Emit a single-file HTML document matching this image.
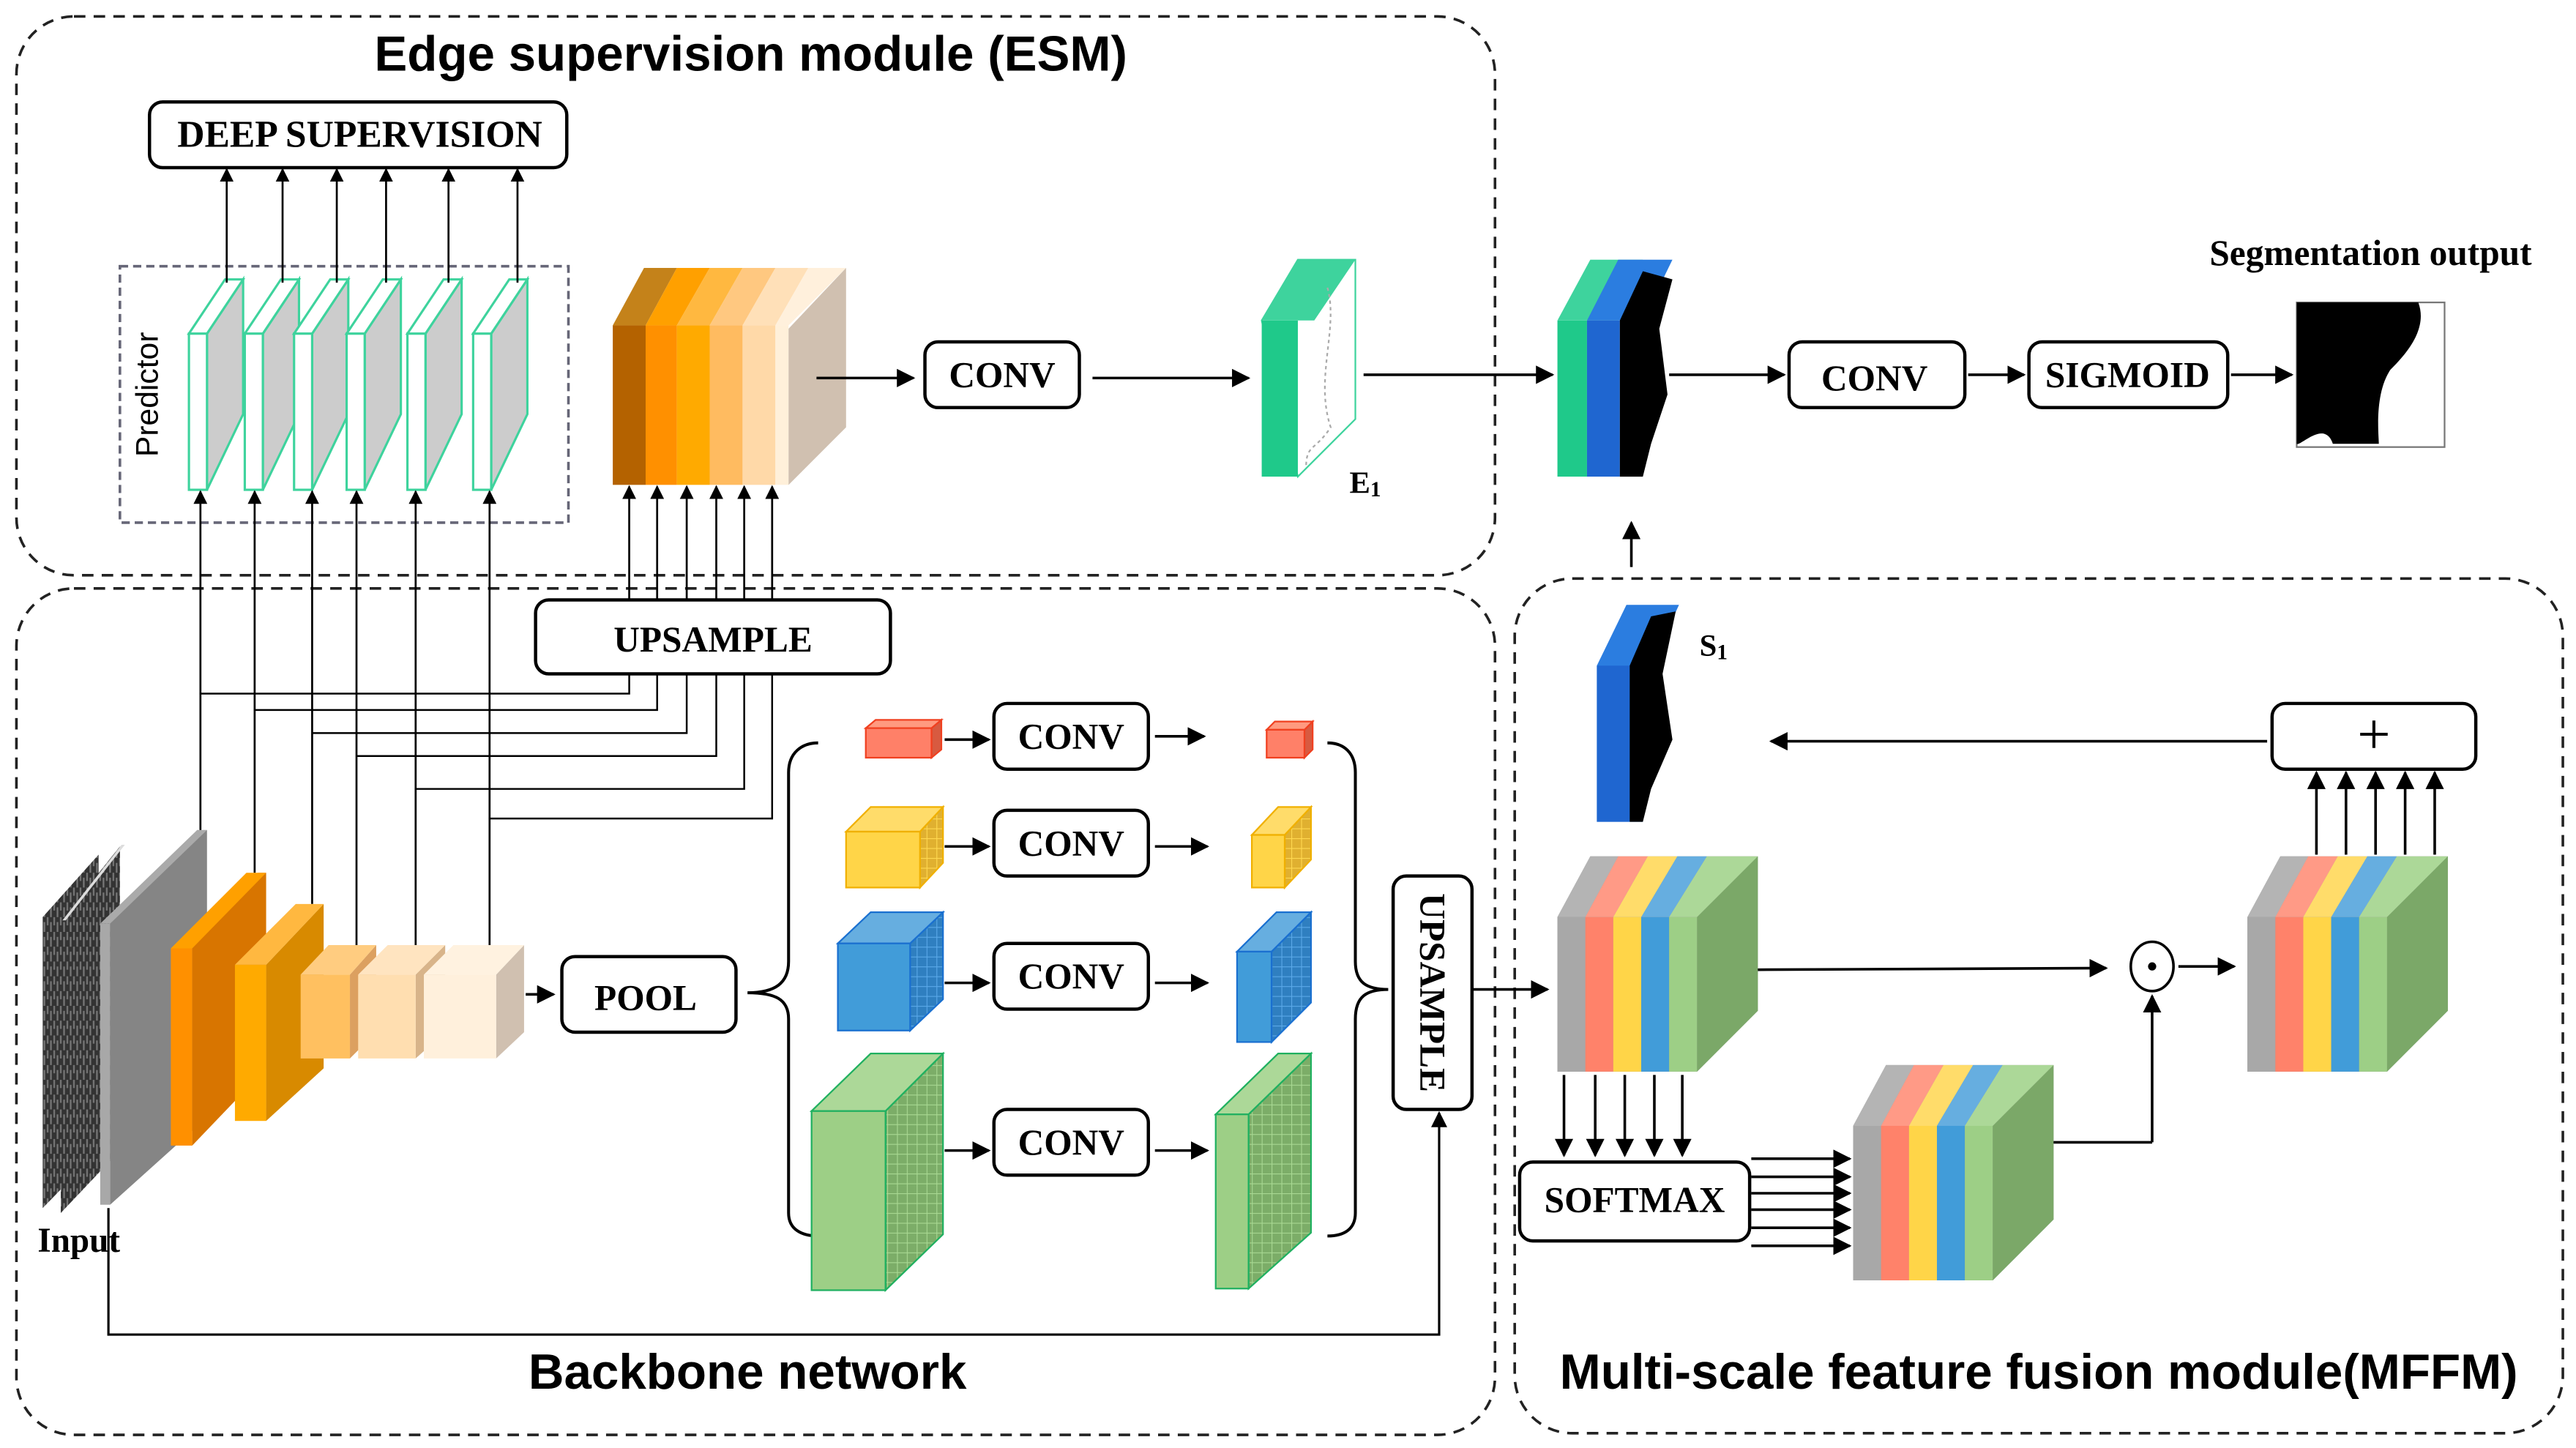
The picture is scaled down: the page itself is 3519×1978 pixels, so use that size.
<!DOCTYPE html>
<html><head><meta charset="utf-8"><style>
html,body{margin:0;padding:0;background:#fff}
svg{display:block}
.s{font-family:"Liberation Serif",serif;font-weight:bold;font-size:22px;text-anchor:middle;dominant-baseline:central}
.t{font-family:"Liberation Sans",sans-serif;font-weight:bold;font-size:30px;text-anchor:middle}
</style></head><body>
<svg width="3519" height="1978" viewBox="0 0 1568 881" preserveAspectRatio="none" xmlns="http://www.w3.org/2000/svg">
<defs>
<marker id="a" viewBox="0 0 10 10" refX="9" refY="5" markerWidth="7" markerHeight="7" orient="auto"><path d="M0,0L10,5L0,10z" fill="#000"/></marker>
<pattern id="gy" width="6" height="6" patternUnits="userSpaceOnUse"><rect width="6" height="6" fill="#e0b030"/><path d="M0,0V6M0,0H6" stroke="#ffd850" stroke-width="1"/></pattern>
<pattern id="gb" width="6" height="6" patternUnits="userSpaceOnUse"><rect width="6" height="6" fill="#2f7fc0"/><path d="M0,0V6M0,0H6" stroke="#5aa8e8" stroke-width="1"/></pattern>
<pattern id="gg" width="6" height="6" patternUnits="userSpaceOnUse"><rect width="6" height="6" fill="#7cad68"/><path d="M0,0V6M0,0H6" stroke="#a8d892" stroke-width="1"/></pattern>
<pattern id="sc" width="4" height="9" patternUnits="userSpaceOnUse"><rect width="4" height="9" fill="#333"/><path d="M1,0V5M3,3V9" stroke="#777" stroke-width="1"/></pattern>
</defs>
<g fill="none" stroke="#222" stroke-width="1.6" stroke-dasharray="7,5">
<rect x="10" y="10" width="900" height="340" rx="35"/>
<rect x="10" y="358" width="900" height="515" rx="35"/>
<rect x="922" y="352" width="638" height="520" rx="35"/>
</g>
<text class="t" x="457" y="43">Edge supervision module (ESM)</text>
<text class="t" x="455" y="845">Backbone network</text>
<text class="t" x="1241" y="845">Multi-scale feature fusion module(MFFM)</text>

<g fill="#fff" stroke="#000" stroke-width="2">
<rect x="91" y="62" width="254" height="40" rx="8"/>
<rect x="563" y="208" width="94" height="40" rx="8"/>
<rect x="1089" y="208" width="107" height="40" rx="8"/>
<rect x="1235" y="208" width="121" height="40" rx="8"/>
<rect x="326" y="365" width="216" height="45" rx="8"/>
<rect x="342" y="582" width="106" height="46" rx="8"/>
<rect x="605" y="428" width="94" height="40" rx="8"/>
<rect x="605" y="493" width="94" height="40" rx="8"/>
<rect x="605" y="574" width="94" height="40" rx="8"/>
<rect x="605" y="675" width="94" height="40" rx="8"/>
<rect x="848" y="533" width="48" height="142" rx="8"/>
<rect x="1383" y="428" width="124" height="40" rx="8"/>
<rect x="925" y="707" width="140" height="48" rx="8"/>
</g>
<text class="s" x="219" y="82" style="font-size:23px">DEEP SUPERVISION</text>
<text class="s" x="610" y="228">CONV</text>
<text class="s" x="1141" y="230">CONV</text>
<text class="s" x="1295" y="228">SIGMOID</text>
<text class="s" x="434" y="389">UPSAMPLE</text>
<text class="s" x="393" y="607">POOL</text>
<text class="s" x="652" y="448">CONV</text>
<text class="s" x="652" y="513">CONV</text>
<text class="s" x="652" y="594">CONV</text>
<text class="s" x="652" y="695">CONV</text>
<text class="s" x="872" y="604" transform="rotate(90 872 604)">UPSAMPLE</text>
<text class="s" x="1445" y="447" style="font-size:36px;font-weight:normal">+</text>
<text class="s" x="995" y="730">SOFTMAX</text>
<text class="s" x="1443" y="154" style="font-size:22px">Segmentation output</text>
<text class="s" x="48" y="755" style="font-size:21px">Input</text>
<text class="s" x="831" y="294" style="font-size:19px">E<tspan font-size="13" dy="4">1</tspan></text>
<text class="s" x="1043" y="393" style="font-size:19px">S<tspan font-size="13" dy="4">1</tspan></text>

<!-- predictor -->
<rect x="73" y="162" width="273" height="156" fill="none" stroke="#667" stroke-width="1.6" stroke-dasharray="5,3"/>
<text x="96" y="240" transform="rotate(-90 96 240)" font-family="Liberation Sans,sans-serif" font-size="19" text-anchor="middle">Predictor</text>
<g stroke="#3ed39d" stroke-width="1.4">
<g id="p"><polygon points="126,203 148,170 148,252 126,298" fill="#ccc"/><polygon points="115,203 137,170 148,170 126,203" fill="#fff"/><rect x="115" y="203" width="11" height="95" fill="#fff"/></g>
<use href="#p" x="34"/><use href="#p" x="64"/><use href="#p" x="96"/><use href="#p" x="133"/><use href="#p" x="173"/>
</g>
<g stroke="#000" stroke-width="1.2" marker-end="url(#a)">
<line x1="138" y1="172" x2="138" y2="103"/><line x1="172" y1="172" x2="172" y2="103"/><line x1="205" y1="172" x2="205" y2="103"/><line x1="235" y1="172" x2="235" y2="103"/><line x1="273" y1="172" x2="273" y2="103"/><line x1="315" y1="172" x2="315" y2="103"/>
</g>
<!-- orange stack -->
<rect x="373" y="198" width="20" height="97" fill="#b46200"/>
<rect x="393" y="198" width="19" height="97" fill="#ff9000"/>
<rect x="412" y="198" width="20" height="97" fill="#ffaa00"/>
<rect x="432" y="198" width="20" height="97" fill="#ffbb60"/>
<rect x="452" y="198" width="20" height="97" fill="#ffd9a8"/>
<rect x="472" y="198" width="8" height="97" fill="#fff0da"/>
<polygon points="373,198 392,163 412,163 393,198" fill="#c4821a"/>
<polygon points="393,198 412,163 432,163 412,198" fill="#ffa000"/>
<polygon points="412,198 432,163 452,163 432,198" fill="#ffb840"/>
<polygon points="432,198 452,163 472,163 452,198" fill="#ffc880"/>
<polygon points="452,198 472,163 492,163 472,198" fill="#ffe0b8"/>
<polygon points="472,198 492,163 515,163 480,198" fill="#fff0dc"/>
<polygon points="480,200 515,163 515,260 480,295" fill="#d0c0b0"/>
<g stroke="#000" stroke-width="1.2" marker-end="url(#a)">
<line x1="383" y1="365" x2="383" y2="296"/><line x1="400" y1="365" x2="400" y2="296"/><line x1="418" y1="365" x2="418" y2="296"/><line x1="436" y1="365" x2="436" y2="296"/><line x1="453" y1="365" x2="453" y2="296"/><line x1="470" y1="365" x2="470" y2="296"/>
<line x1="122" y1="505" x2="122" y2="299"/><line x1="155" y1="531" x2="155" y2="299"/><line x1="190" y1="550" x2="190" y2="299"/><line x1="217" y1="575" x2="217" y2="299"/><line x1="253" y1="575" x2="253" y2="299"/><line x1="298" y1="575" x2="298" y2="299"/>
</g>
<g fill="none" stroke="#000" stroke-width="1.1">
<polyline points="122,422 383,422 383,410"/><polyline points="155,432 400,432 400,410"/><polyline points="190,446 418,446 418,410"/><polyline points="217,460 436,460 436,410"/><polyline points="253,480 453,480 453,410"/><polyline points="298,498 470,498 470,410"/>
</g>
<!-- ESM arrows -->
<g stroke="#000" stroke-width="1.6" marker-end="url(#a)">
<line x1="497" y1="230" x2="556" y2="230"/><line x1="665" y1="230" x2="760" y2="230"/><line x1="830" y1="228" x2="945" y2="228"/><line x1="1016" y1="228" x2="1086" y2="228"/><line x1="1198" y1="228" x2="1232" y2="228"/><line x1="1358" y1="228" x2="1395" y2="228"/>
<line x1="993" y1="345" x2="993" y2="318"/>
</g>
<!-- E1 -->
<polygon points="768,195 790,158 825,158 825,255 790,290" fill="#fff" stroke="#3ed39d"/>
<polygon points="768,195 790,158 825,158 800,195" fill="#3ed39d"/>
<rect x="768" y="195" width="22" height="95" fill="#1fc98a"/>
<path d="M808,175 C815,200 800,230 810,260 C800,275 795,270 795,285" fill="none" stroke="#aaa" stroke-dasharray="2,2"/>
<!-- fused -->
<polygon points="948,195 968,158 1000,158 985,195" fill="#3ed39d"/>
<rect x="948" y="195" width="18" height="95" fill="#1fc98a"/>
<polygon points="966,195 985,158 1018,158 1000,195" fill="#2b7de0"/>
<rect x="966" y="195" width="20" height="95" fill="#1f66d0"/>
<path d="M986,195 L1000,165 1018,170 1010,200 1015,240 1005,270 1000,290 986,290z" fill="#000"/>
<!-- output -->
<rect x="1398" y="184" width="90" height="88" fill="#fff" stroke="#777"/>
<path d="M1398,184 L1472,184 C1478,200 1465,215 1455,225 C1445,240 1448,265 1448,270 L1420,270 C1415,255 1400,272 1398,270z" fill="#000"/>
<!-- S1 -->
<polygon points="972,405 990,368 1022,368 1005,405 1000,500 972,500" fill="#2b7de0"/>
<rect x="972" y="405" width="20" height="95" fill="#1f66d0"/>
<path d="M992,405 L1005,375 1020,372 1012,410 1018,450 1005,480 1000,500 992,500z" fill="#000"/>
<!-- MFFM stacks -->
<g id="cs">
<polygon points="948,558 968,521 1070,521 1070,615 1033,652 948,652" fill="#999"/>
<polygon points="948,558 968,521 985,521 965,558" fill="#b4b4b4"/>
<polygon points="965,558 985,521 1003,521 982,558" fill="#ff9a86"/>
<polygon points="982,558 1003,521 1021,521 999,558" fill="#ffdc6a"/>
<polygon points="999,558 1021,521 1039,521 1016,558" fill="#66aee0"/>
<polygon points="1016,558 1039,521 1070,521 1033,558" fill="#acd898"/>
<rect x="948" y="558" width="17" height="94" fill="#a8a8a8"/>
<rect x="965" y="558" width="17" height="94" fill="#ff826a"/>
<rect x="982" y="558" width="17" height="94" fill="#ffd548"/>
<rect x="999" y="558" width="17" height="94" fill="#419cd9"/>
<rect x="1016" y="558" width="17" height="94" fill="#9dcf86"/>
<polygon points="1033,558 1070,521 1070,615 1033,652" fill="#7ba868"/>
</g>
<use href="#cs" x="420"/>
<use href="#cs" x="180" y="127"/>
<g stroke="#000" stroke-width="1.6" marker-end="url(#a)">
<line x1="1380" y1="451" x2="1078" y2="451"/>
<line x1="1070" y1="590" x2="1282" y2="589"/>
<line x1="1326" y1="588" x2="1360" y2="588"/>
<line x1="1310" y1="695" x2="1310" y2="606"/>
<line x1="1410" y1="520" x2="1410" y2="470"/><line x1="1428" y1="520" x2="1428" y2="470"/><line x1="1446" y1="520" x2="1446" y2="470"/><line x1="1464" y1="520" x2="1464" y2="470"/><line x1="1482" y1="520" x2="1482" y2="470"/>
<line x1="952" y1="654" x2="952" y2="703"/><line x1="971" y1="654" x2="971" y2="703"/><line x1="989" y1="654" x2="989" y2="703"/><line x1="1007" y1="654" x2="1007" y2="703"/><line x1="1024" y1="654" x2="1024" y2="703"/>
<line x1="1066" y1="705" x2="1126" y2="705"/><line x1="1066" y1="716" x2="1126" y2="716"/><line x1="1066" y1="726" x2="1126" y2="726"/><line x1="1066" y1="736" x2="1126" y2="736"/><line x1="1066" y1="747" x2="1126" y2="747"/><line x1="1066" y1="758" x2="1126" y2="758"/>
<line x1="896" y1="602" x2="942" y2="602"/>
</g>
<line x1="1250" y1="695" x2="1310" y2="695" stroke="#000" stroke-width="1.6"/>
<ellipse cx="1310" cy="588" rx="13" ry="15" fill="#fff" stroke="#000" stroke-width="1.6"/><circle cx="1310" cy="588" r="2.5"/>
<!-- backbone input -->
<polygon points="26,558 60,520 60,700 26,735" fill="url(#sc)"/>
<polygon points="37,560 73,515 73,700 37,738" fill="url(#sc)"/>
<polygon points="38,560 74,514 76,514 40,560" fill="#ddd"/>
<polygon points="67,562 120,505 126,505 126,680 67,733" fill="#858585"/>
<polygon points="61,562 120,505 126,505 67,562" fill="#aaa"/>
<rect x="61" y="562" width="6" height="171" fill="#a8a8a8"/>
<polygon points="117,577 157,531 162,531 162,650 117,697" fill="#d87500"/>
<polygon points="104,577 150,531 162,531 117,577" fill="#ffa000"/>
<rect x="104" y="577" width="13" height="120" fill="#ff9000"/>
<polygon points="162,587 197,550 197,650 162,682" fill="#d88a00"/>
<polygon points="143,587 180,550 197,550 162,587" fill="#ffb840"/>
<rect x="143" y="587" width="19" height="95" fill="#ffaa00"/>
<polygon points="213,593 229,575 229,628 213,644" fill="#dca060"/>
<polygon points="183,593 200,575 229,575 213,593" fill="#ffcc80"/>
<rect x="183" y="593" width="30" height="51" fill="#ffc060"/>
<polygon points="253,593 271,575 271,628 253,644" fill="#d8b48a"/>
<polygon points="218,593 236,575 271,575 253,593" fill="#ffe4c0"/>
<rect x="218" y="593" width="35" height="51" fill="#ffdeb0"/>
<polygon points="302,593 319,575 319,628 302,644" fill="#d0c0b0"/>
<polygon points="258,593 276,575 319,575 302,593" fill="#fff2e0"/>
<rect x="258" y="593" width="44" height="51" fill="#fff0dc"/>
<g stroke="#000" stroke-width="1.6" marker-end="url(#a)">
<line x1="320" y1="605" x2="337" y2="605"/>
<line x1="575" y1="450" x2="602" y2="450"/><line x1="703" y1="448" x2="733" y2="448"/>
<line x1="575" y1="515" x2="602" y2="515"/><line x1="703" y1="515" x2="735" y2="515"/>
<line x1="575" y1="598" x2="602" y2="598"/><line x1="703" y1="598" x2="735" y2="598"/>
<line x1="575" y1="700" x2="602" y2="700"/><line x1="703" y1="700" x2="735" y2="700"/>
</g>
<polyline points="66,735 66,812 876,812 876,677" fill="none" stroke="#000" stroke-width="1.4" marker-end="url(#a)"/>
<!-- braces -->
<path d="M455,604 C472,604 480,598 480,585 L480,470 C480,458 488,452 498,452 M480,620 L480,738 C480,748 488,752 498,752 M455,604 C472,604 480,608 480,620" fill="none" stroke="#000" stroke-width="1.8"/>
<path d="M808,452 C818,452 825,458 825,470 L825,585 C825,598 832,602 845,602 C832,602 825,606 825,620 L825,738 C825,748 818,752 808,752" fill="none" stroke="#000" stroke-width="1.8"/>
<!-- cubes -->
<g stroke-width="1">
<polygon points="567,443 573,438 573,456 567,461" fill="#d85a40" stroke="#f04020"/>
<polygon points="527,443 533,438 573,438 567,443" fill="#ff9a80" stroke="#f04020"/>
<rect x="527" y="443" width="40" height="18" fill="#ff8068" stroke="#f04020"/>
<polygon points="794,444 799,439 799,456 794,461" fill="#d85a40" stroke="#f04020"/>
<polygon points="771,444 776,439 799,439 794,444" fill="#ff9a80" stroke="#f04020"/>
<rect x="771" y="444" width="23" height="17" fill="#ff8068" stroke="#f04020"/>

<polygon points="560,506 574,491 574,525 560,540" fill="url(#gy)" stroke="#f0b000"/>
<polygon points="515,506 530,491 574,491 560,506" fill="#ffdc6a" stroke="#f0b000"/>
<rect x="515" y="506" width="45" height="34" fill="#ffd548" stroke="#f0b000"/>
<polygon points="782,508 798,491 798,523 782,540" fill="url(#gy)" stroke="#f0b000"/>
<polygon points="762,508 778,491 798,491 782,508" fill="#ffdc6a" stroke="#f0b000"/>
<rect x="762" y="508" width="20" height="32" fill="#ffd548" stroke="#f0b000"/>

<polygon points="554,574 574,555 574,608 554,627" fill="url(#gb)" stroke="#1a70d0"/>
<polygon points="510,574 530,555 574,555 554,574" fill="#66aee0" stroke="#1a70d0"/>
<rect x="510" y="574" width="44" height="53" fill="#419cd9" stroke="#1a70d0"/>
<polygon points="774,579 798,555 798,610 774,634" fill="url(#gb)" stroke="#1a70d0"/>
<polygon points="753,579 777,555 798,555 774,579" fill="#66aee0" stroke="#1a70d0"/>
<rect x="753" y="579" width="21" height="55" fill="#419cd9" stroke="#1a70d0"/>

<polygon points="539,676 574,641 574,751 539,785" fill="url(#gg)" stroke="#20b060"/>
<polygon points="494,676 530,641 574,641 539,676" fill="#acd898" stroke="#20b060"/>
<rect x="494" y="676" width="45" height="109" fill="#9dcf86" stroke="#20b060"/>
<polygon points="760,678 798,641 798,750 760,784" fill="url(#gg)" stroke="#20b060"/>
<polygon points="740,678 778,641 798,641 760,678" fill="#acd898" stroke="#20b060"/>
<rect x="740" y="678" width="20" height="106" fill="#9dcf86" stroke="#20b060"/>
</g>
</svg>
</body></html>
